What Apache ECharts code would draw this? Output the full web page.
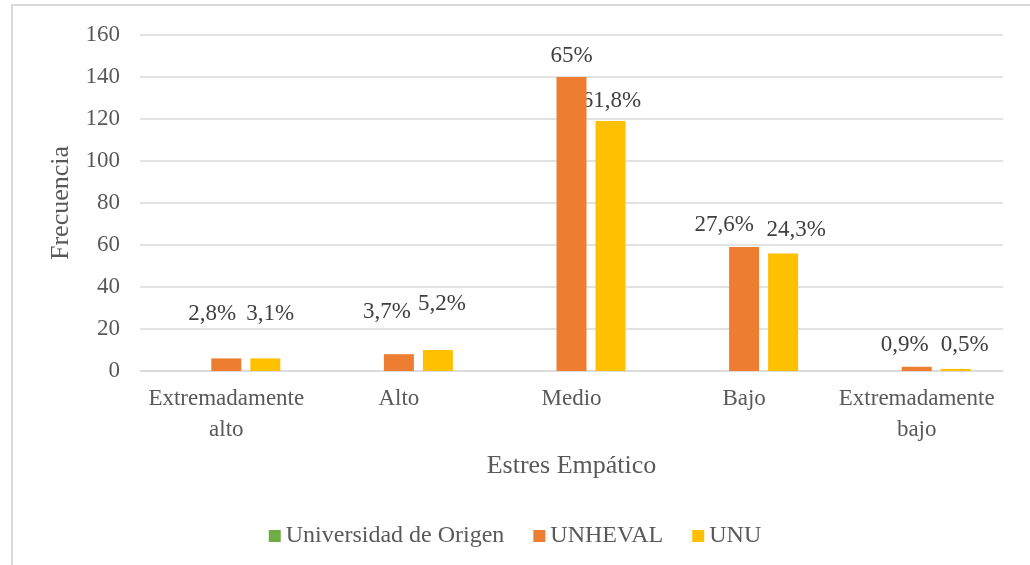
<!DOCTYPE html>
<html>
<head>
<meta charset="utf-8">
<script src="https://cdn.jsdelivr.net/npm/echarts@6/dist/echarts.min.js"></script>
<style>
  html, body { margin: 0; padding: 0; overflow: hidden; background: #fff; }
  #frame { position: absolute; left: 11px; top: 4px; width: 1200px; height: 800px; border: 2px solid #d9d9d9; }
  #chart { position: absolute; left: 0; top: 0; width: 1030px; height: 565px; }
</style>
</head>
<body>
<div id="frame"></div>
<div id="chart"></div>
<script>
// datos
var categorias = ["Extremadamente\nalto", "Alto", "Medio", "Bajo", "Extremadamente\nbajo"];
var origen = [0, 0, 0, 0, 0];
var unheval = [6, 8, 140, 59, 2];
var unu = [6, 10, 119, 56, 1];
var etiquetasUnheval = ["2,8%", "3,7%", "65%", "27,6%", "0,9%"];
var etiquetasUnu = ["3,1%", "5,2%", "61,8%", "24,3%", "0,5%"];
var ticksY = [0, 20, 40, 60, 80, 100, 120, 140, 160];

// desplazamiento de las etiquetas como en el original
var offUnheval = [[-14, -28], [-12, -26], [0, -5], [-20, -6], [-12, -5]];
var offUnu = [[5, -28], [4, -30], [1, -4], [13, -7], [9, -7]];

var fuente = "'Liberation Serif', 'Times New Roman', serif";
var gris = "#595959";

function conEtiquetas(valores, textos, offs) {
  return valores.map(function (v, i) {
    return {
      value: v,
      label: { formatter: textos[i], offset: offs[i] }
    };
  });
}

var chart = echarts.init(document.getElementById("chart"), null, { renderer: "canvas" });

var option = {
  animation: false,
  textStyle: { fontFamily: fuente, color: gris },
  grid: { left: 140, right: 27, top: 35, bottom: 194 },
  legend: {
    top: 519,
    left: "center",
    itemWidth: 12,
    itemHeight: 12,
    itemGap: 29,
    icon: "rect",
    textStyle: { fontFamily: fuente, fontSize: 24, color: gris },
    data: ["Universidad de Origen", "UNHEVAL", "UNU"]
  },
  xAxis: {
    type: "category",
    data: categorias,
    name: "Estres Empático",
    nameLocation: "middle",
    nameGap: 82,
    nameTextStyle: { fontFamily: fuente, fontSize: 26, color: gris },
    axisLine: { lineStyle: { color: "#d9d9d9", width: 1.5 } },
    axisTick: { show: false },
    axisLabel: { fontFamily: fuente, fontSize: 23, color: gris, lineHeight: 31, margin: 12, interval: 0 }
  },
  yAxis: {
    type: "value",
    min: ticksY[0],
    max: ticksY[ticksY.length - 1],
    interval: 20,
    name: "Frecuencia",
    nameLocation: "middle",
    nameGap: 63,
    nameRotate: 90,
    nameTextStyle: { fontFamily: fuente, fontSize: 26, color: gris },
    axisLine: { show: false },
    axisTick: { show: false },
    splitLine: { lineStyle: { color: "#d9d9d9", width: 1.5 } },
    axisLabel: { fontFamily: fuente, fontSize: 23, color: gris, margin: 20 }
  },
  series: [
    {
      name: "Universidad de Origen",
      type: "bar",
      barWidth: 30,
      barGap: "30%",
      itemStyle: { color: "#70AD47" },
      data: origen
    },
    {
      name: "UNHEVAL",
      type: "bar",
      z: 3,
      barWidth: 30,
      barGap: "30%",
      itemStyle: { color: "#ED7D31" },
      label: { show: true, position: "top", fontFamily: fuente, fontSize: 23, color: "#404040" },
      data: conEtiquetas(unheval, etiquetasUnheval, offUnheval)
    },
    {
      name: "UNU",
      type: "bar",
      z: 1,
      barWidth: 30,
      barGap: "30%",
      itemStyle: { color: "#FFC000" },
      label: { show: true, position: "top", fontFamily: fuente, fontSize: 23, color: "#404040" },
      data: conEtiquetas(unu, etiquetasUnu, offUnu)
    }
  ]
};

chart.setOption(option);
</script>
</body>
</html>
